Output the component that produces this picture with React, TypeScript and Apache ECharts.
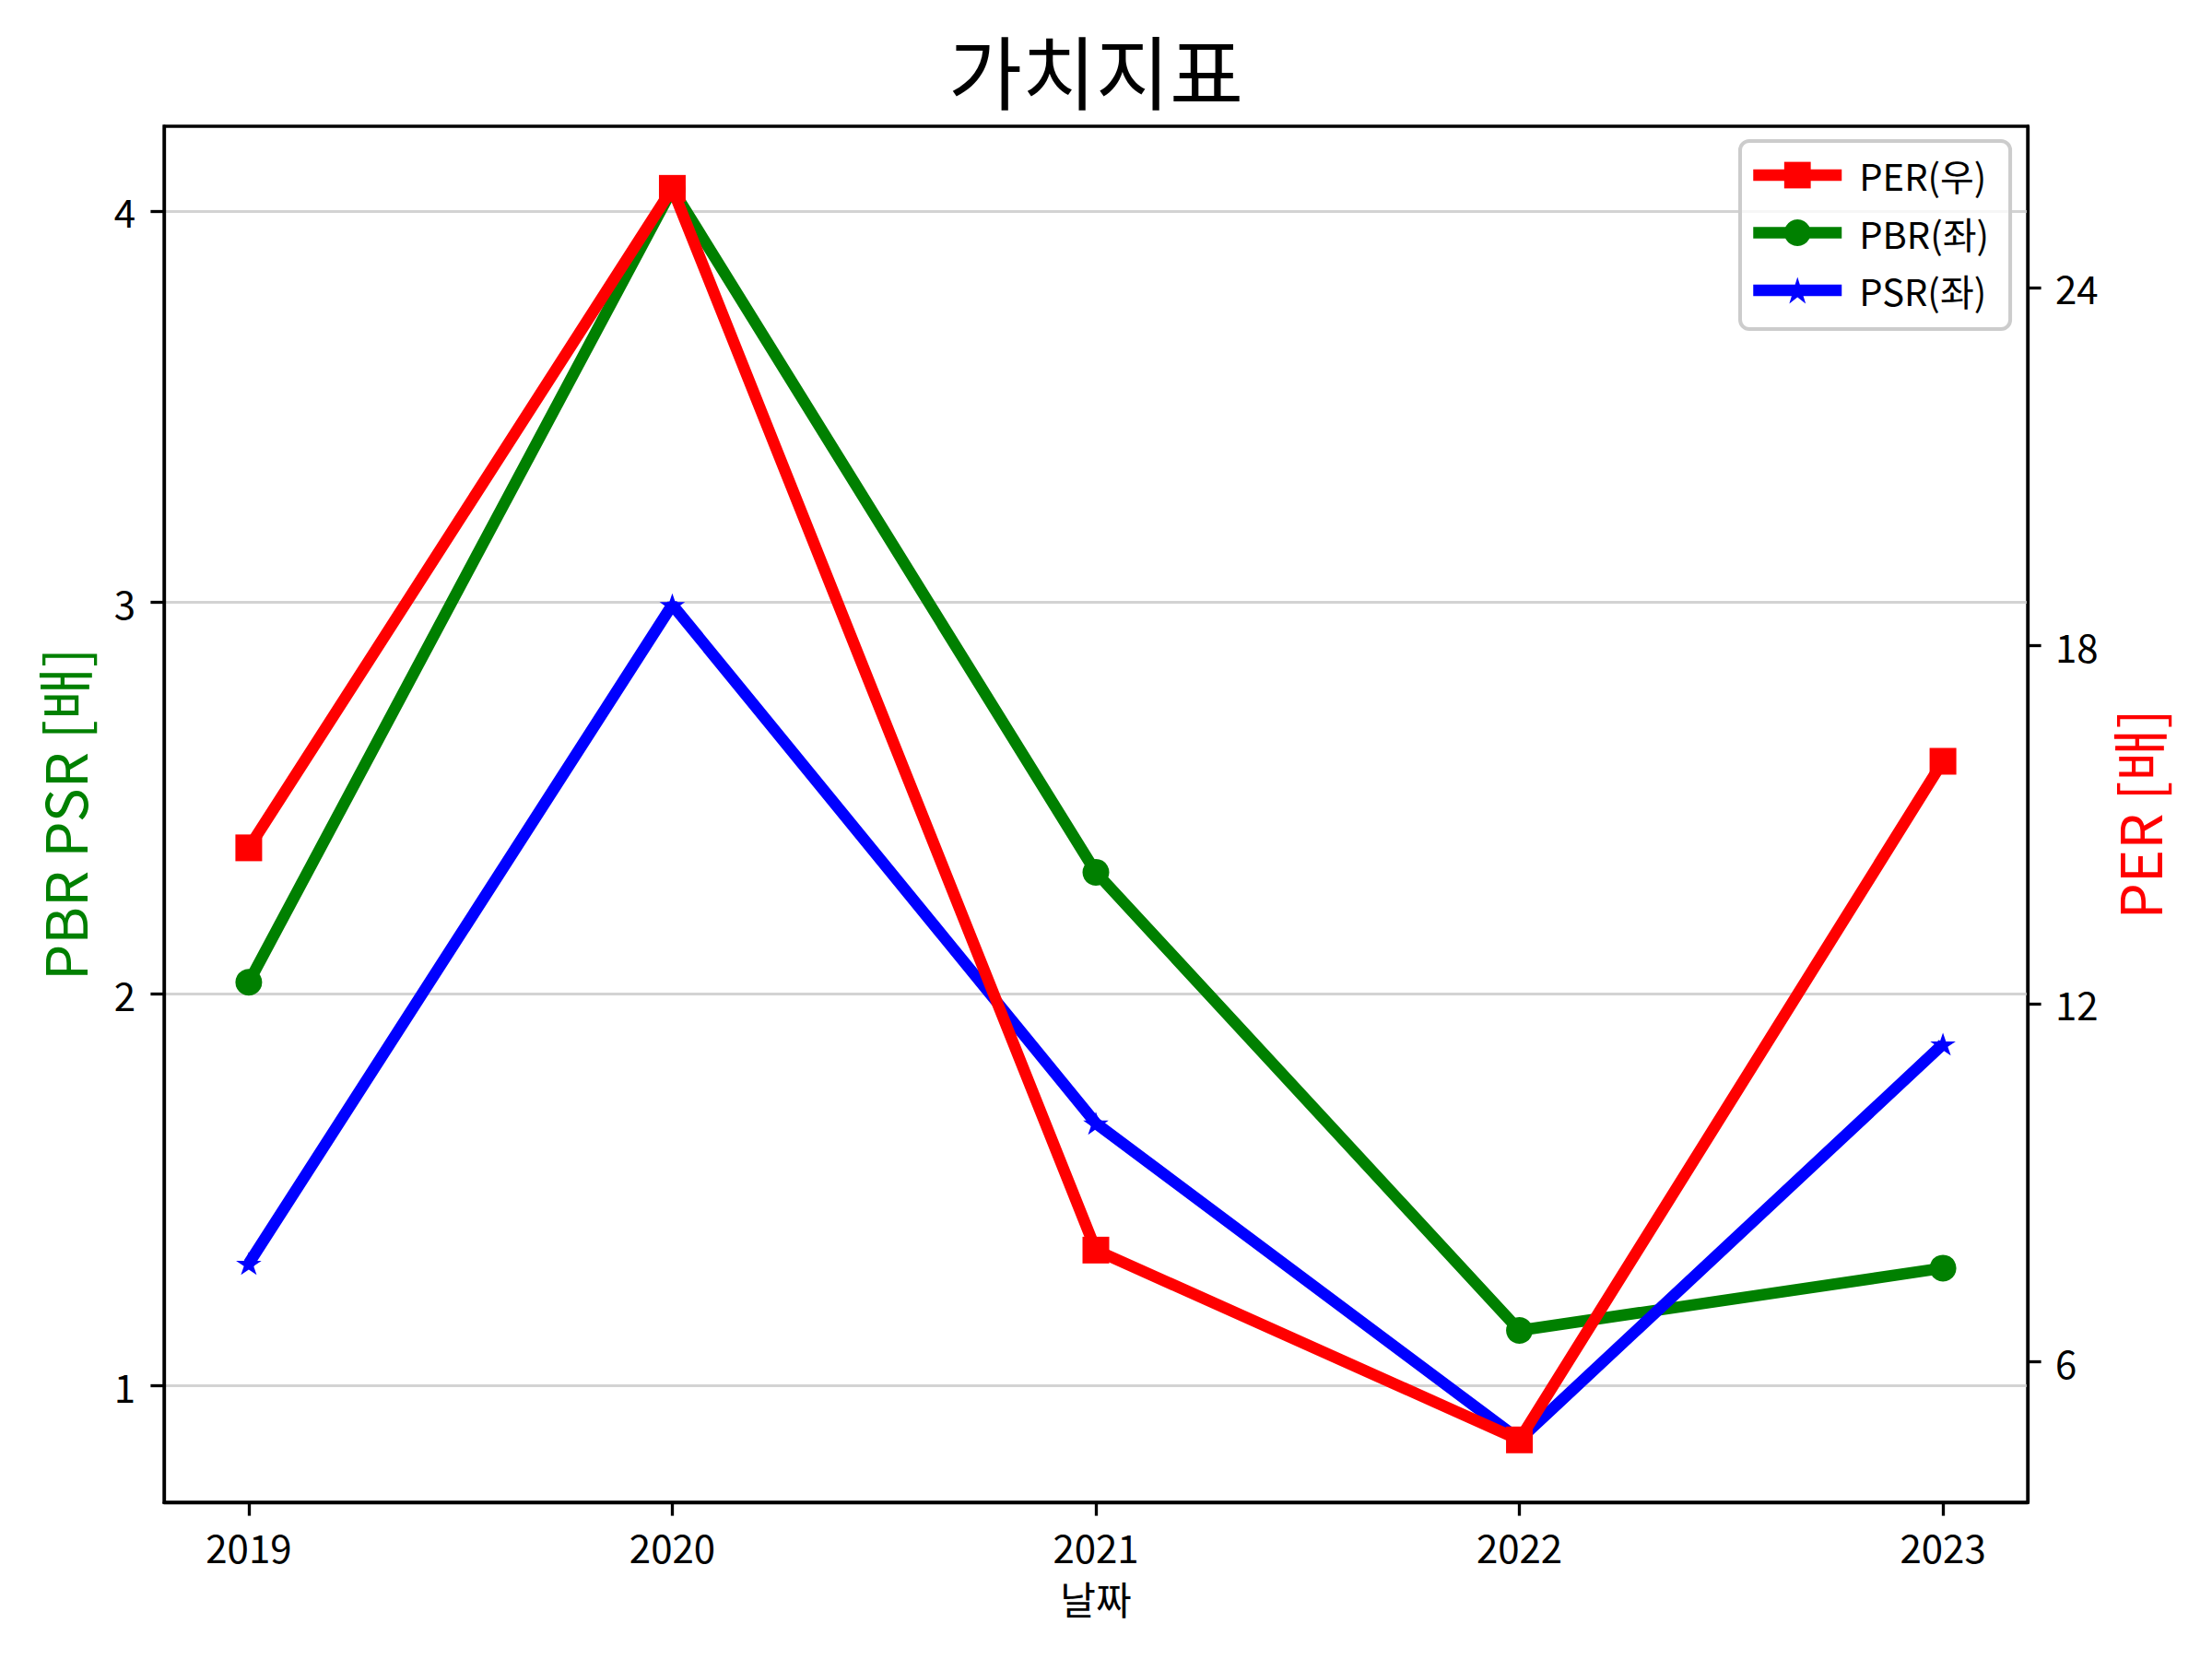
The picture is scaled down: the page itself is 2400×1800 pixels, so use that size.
import React, { useEffect, useRef } from "react";
import * as echarts from "echarts";

const years = [2019, 2020, 2021, 2022, 2023];
const perValues = [14.61, 25.66, 7.87, 4.69, 16.06];
const pbrValues = [2.03, 4.056, 2.311, 1.141, 1.3];
const psrValues = [1.312, 2.994, 1.67, 0.862, 1.872];
const leftTicks = [1, 2, 3, 4];
const rightTicks = [6, 12, 18, 24];
const legendNames = ["PER(우)", "PBR(좌)", "PSR(좌)"];

const FONT = "Noto Sans CJK KR";
const STAR =
  "path://M0,-1L0.2245,-0.309L0.951,-0.309L0.363,0.118L0.588,0.809L0,0.382L-0.588,0.809L-0.363,0.118L-0.951,-0.309L-0.2245,-0.309Z";

export default function App() {
  const ref = useRef<HTMLDivElement>(null);
  useEffect(() => {
    if (!ref.current) return;
    const chart = echarts.init(ref.current, undefined, { renderer: "svg" });
    const axisLine = { show: true, lineStyle: { color: "#000", width: 3.3 } };
    const tickStyle = { color: "#000", width: 3.3 };
    const labelBase = { fontSize: 42, color: "#000", fontFamily: FONT };
    chart.setOption({
      animation: false,
      backgroundColor: "#fff",
      textStyle: { fontFamily: FONT },
      title: {
        text: "가치지표",
        left: 1189,
        top: 31,
        padding: 0,
        textAlign: "center",
        textStyle: { fontSize: 87, fontWeight: "normal", color: "#000", fontFamily: FONT },
      },
      grid: {
        left: 178,
        right: 200,
        top: 137,
        bottom: 170,
        show: true,
        borderColor: "#000",
        borderWidth: 3.3,
        backgroundColor: "transparent",
      },
      legend: {
        orient: "vertical",
        left: 1888,
        top: 153,
        data: legendNames,
        itemWidth: 96,
        itemHeight: 36,
        itemGap: 22.5,
        padding: [17, 23, 22, 8],
        backgroundColor: "rgba(255,255,255,0.8)",
        borderColor: "#cccccc",
        borderWidth: 4,
        borderRadius: 10,
        lineStyle: { width: 12.5 },
        textStyle: { fontSize: 40, lineHeight: 40, color: "#000", padding: [0, 0, 0, 14], fontFamily: FONT },
      },
      xAxis: {
        type: "value",
        min: 2018.8,
        max: 2023.2,
        axisLine,
        axisTick: { show: true, customValues: years, length: 14.6, lineStyle: tickStyle },
        axisLabel: { ...labelBase, customValues: years, margin: 26, formatter: (v: number) => String(v) },
        splitLine: { show: false },
        name: "날짜",
        nameLocation: "middle",
        nameGap: 82,
        nameTextStyle: { fontSize: 42, color: "#000", fontFamily: FONT },
      },
      yAxis: [
        {
          type: "value",
          position: "left",
          min: 0.702,
          max: 4.216,
          axisLine,
          axisTick: { show: true, customValues: leftTicks, length: 14.6, lineStyle: tickStyle },
          axisLabel: { ...labelBase, customValues: leftTicks, margin: 31, formatter: (v: number) => String(v) },
          splitLine: { show: true, lineStyle: { color: "#d3d3d3", width: 3 } },
          name: "PBR PSR [배]",
          nameLocation: "middle",
          nameRotate: 90,
          nameGap: 79,
          nameTextStyle: { fontSize: 62, color: "#008000", fontFamily: FONT },
        },
        {
          type: "value",
          position: "right",
          min: 3.644,
          max: 26.7,
          axisLine,
          axisTick: { show: true, customValues: rightTicks, length: 14.6, lineStyle: tickStyle },
          axisLabel: { ...labelBase, customValues: rightTicks, margin: 30, formatter: (v: number) => String(v) },
          splitLine: { show: false },
          name: "PER [배]",
          nameLocation: "middle",
          nameRotate: 90,
          nameGap: 84,
          nameTextStyle: { fontSize: 62, color: "#ff0000", fontFamily: FONT },
        },
      ],
      series: [
        {
          name: "PBR(좌)",
          type: "line",
          yAxisIndex: 0,
          data: years.map((y, i) => [y, pbrValues[i]]),
          symbol: "circle",
          symbolSize: 29,
          showAllSymbol: true,
          color: "#008000",
          lineStyle: { width: 12.5, color: "#008000" },
          itemStyle: { color: "#008000" },
          z: 2,
        },
        {
          name: "PSR(좌)",
          type: "line",
          yAxisIndex: 0,
          data: years.map((y, i) => [y, psrValues[i]]),
          symbol: STAR,
          symbolKeepAspect: true,
          symbolSize: [27.6, 26.2],
          showAllSymbol: true,
          color: "#0000ff",
          lineStyle: { width: 12.5, color: "#0000ff" },
          itemStyle: { color: "#0000ff" },
          z: 3,
        },
        {
          name: "PER(우)",
          type: "line",
          yAxisIndex: 1,
          data: years.map((y, i) => [y, perValues[i]]),
          symbol: "rect",
          symbolSize: 29,
          showAllSymbol: true,
          color: "#ff0000",
          lineStyle: { width: 12.5, color: "#ff0000" },
          itemStyle: { color: "#ff0000" },
          z: 4,
        },
      ],
    });
    return () => chart.dispose();
  }, []);
  return (
    <div
      ref={ref}
      style={{ position: "fixed", left: 0, top: 0, width: 2400, height: 1800, background: "#fff" }}
    />
  );
}
